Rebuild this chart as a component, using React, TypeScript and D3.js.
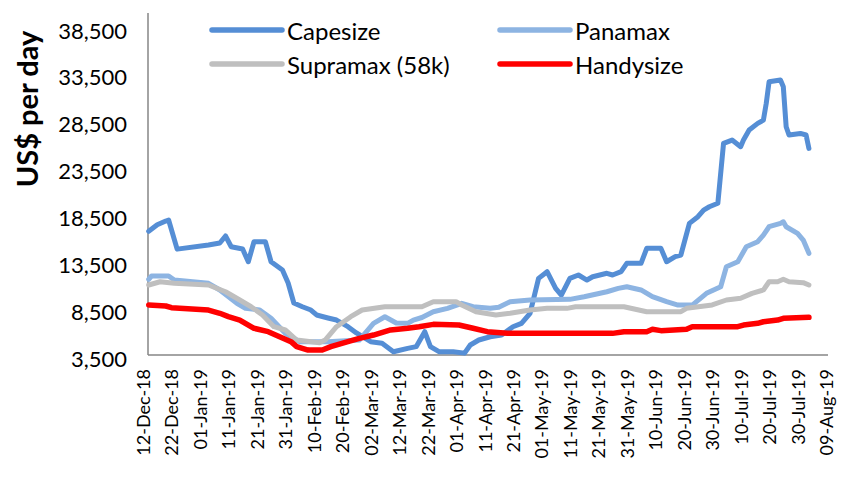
import { useEffect, useRef } from 'react';
import * as d3 from 'd3';

type Pt = [string, number];

const capesize: Pt[] = [
  ['2018-12-14', 16700], ['2018-12-17', 17400], ['2018-12-20', 17800], ['2018-12-21', 17900],
  ['2018-12-24', 14800], ['2019-01-04', 15240], ['2019-01-08', 15450], ['2019-01-10', 16200],
  ['2019-01-12', 15050], ['2019-01-16', 14810], ['2019-01-18', 13450], ['2019-01-20', 15590],
  ['2019-01-24', 15590], ['2019-01-26', 13450], ['2019-01-30', 12570], ['2019-02-01', 11180],
  ['2019-02-03', 9050], ['2019-02-06', 8650], ['2019-02-09', 8300], ['2019-02-11', 7770],
  ['2019-02-15', 7450], ['2019-02-18', 7230], ['2019-02-22', 6520], ['2019-02-25', 5850],
  ['2019-03-02', 4920], ['2019-03-06', 4750], ['2019-03-10', 3850], ['2019-03-15', 4210],
  ['2019-03-18', 4390], ['2019-03-21', 5990], ['2019-03-23', 4390], ['2019-03-26', 3850],
  ['2019-03-31', 3850], ['2019-04-04', 3700], ['2019-04-06', 4570], ['2019-04-09', 5100],
  ['2019-04-13', 5450], ['2019-04-17', 5630], ['2019-04-21', 6520], ['2019-04-24', 6880],
  ['2019-04-27', 7950], ['2019-04-30', 11680], ['2019-05-03', 12390], ['2019-05-06', 10620],
  ['2019-05-08', 9900], ['2019-05-11', 11680], ['2019-05-14', 12040], ['2019-05-17', 11500],
  ['2019-05-19', 11850], ['2019-05-24', 12220], ['2019-05-26', 12040], ['2019-05-29', 12390],
  ['2019-05-31', 13280], ['2019-06-05', 13280], ['2019-06-07', 14880], ['2019-06-12', 14880],
  ['2019-06-14', 13450], ['2019-06-17', 13990], ['2019-06-19', 14170], ['2019-06-22', 17550],
  ['2019-06-25', 18260], ['2019-06-27', 18970], ['2019-06-29', 19320], ['2019-07-02', 19690],
  ['2019-07-04', 26090], ['2019-07-07', 26440], ['2019-07-10', 25730], ['2019-07-11', 26440],
  ['2019-07-13', 27510], ['2019-07-16', 28220], ['2019-07-18', 28570], ['2019-07-19', 30350],
  ['2019-07-20', 32660], ['2019-07-24', 32840], ['2019-07-25', 32130], ['2019-07-26', 27860],
  ['2019-07-27', 26980], ['2019-07-31', 27150], ['2019-08-02', 26980], ['2019-08-03', 25550],
];

const panamax: Pt[] = [
  ['2018-12-14', 11580], ['2018-12-15', 11930], ['2018-12-21', 11930], ['2018-12-23', 11500],
  ['2019-01-04', 11150], ['2019-01-08', 10440], ['2019-01-14', 9020], ['2019-01-17', 8480],
  ['2019-01-22', 8300], ['2019-01-26', 7420], ['2019-01-31', 5820], ['2019-02-05', 4920],
  ['2019-02-15', 4920], ['2019-02-26', 5100], ['2019-03-03', 6880], ['2019-03-07', 7580],
  ['2019-03-11', 6910], ['2019-03-15', 6880], ['2019-03-17', 7230], ['2019-03-20', 7500],
  ['2019-03-24', 8120], ['2019-03-29', 8480], ['2019-04-03', 9020], ['2019-04-07', 8650],
  ['2019-04-13', 8480], ['2019-04-16', 8590], ['2019-04-20', 9190], ['2019-04-27', 9370],
  ['2019-05-11', 9440], ['2019-05-16', 9720], ['2019-05-24', 10250], ['2019-05-28', 10610],
  ['2019-05-31', 10790], ['2019-06-05', 10440], ['2019-06-09', 9720], ['2019-06-14', 9190],
  ['2019-06-18', 8830], ['2019-06-23', 8830], ['2019-06-28', 10080], ['2019-07-03', 10790],
  ['2019-07-05', 12920], ['2019-07-09', 13450], ['2019-07-12', 15050], ['2019-07-16', 15590],
  ['2019-07-18', 16300], ['2019-07-20', 17190], ['2019-07-24', 17550], ['2019-07-25', 17720],
  ['2019-07-26', 17190], ['2019-07-30', 16480], ['2019-08-01', 15770], ['2019-08-03', 14350],
];

const supramax: Pt[] = [
  ['2018-12-14', 10970], ['2018-12-18', 11320], ['2018-12-23', 11150], ['2019-01-04', 10970],
  ['2019-01-10', 10250], ['2019-01-15', 9370], ['2019-01-19', 8650], ['2019-01-23', 7770],
  ['2019-01-27', 6520], ['2019-01-31', 6170], ['2019-02-04', 5100], ['2019-02-12', 4810],
  ['2019-02-14', 5100], ['2019-02-18', 6520], ['2019-02-23', 7590], ['2019-02-27', 8300],
  ['2019-03-07', 8650], ['2019-03-20', 8650], ['2019-03-24', 9190], ['2019-04-01', 9190],
  ['2019-04-03', 8840], ['2019-04-08', 8120], ['2019-04-15', 7770], ['2019-04-20', 7950],
  ['2019-04-27', 8300], ['2019-05-03', 8480], ['2019-05-10', 8480], ['2019-05-13', 8650],
  ['2019-05-30', 8650], ['2019-06-07', 8120], ['2019-06-19', 8120], ['2019-06-21', 8480],
  ['2019-06-30', 8840], ['2019-07-05', 9370], ['2019-07-10', 9550], ['2019-07-14', 10080],
  ['2019-07-18', 10440], ['2019-07-20', 11320], ['2019-07-23', 11320], ['2019-07-25', 11580],
  ['2019-07-27', 11320], ['2019-08-01', 11220], ['2019-08-03', 10970],
];

const handysize: Pt[] = [
  ['2018-12-14', 8840], ['2018-12-20', 8730], ['2018-12-22', 8550], ['2019-01-04', 8300],
  ['2019-01-08', 7950], ['2019-01-11', 7590], ['2019-01-15', 7230], ['2019-01-20', 6350],
  ['2019-01-25', 5990], ['2019-01-29', 5450], ['2019-02-02', 4920], ['2019-02-04', 4390],
  ['2019-02-08', 4030], ['2019-02-13', 4030], ['2019-02-16', 4390], ['2019-02-22', 4920],
  ['2019-02-26', 5280], ['2019-03-03', 5630], ['2019-03-09', 6170], ['2019-03-15', 6350],
  ['2019-03-19', 6520], ['2019-03-24', 6770], ['2019-04-02', 6700], ['2019-04-07', 6350],
  ['2019-04-12', 5990], ['2019-04-19', 5810], ['2019-05-26', 5810], ['2019-05-30', 5990],
  ['2019-06-07', 5990], ['2019-06-09', 6240], ['2019-06-12', 6100], ['2019-06-21', 6240],
  ['2019-06-23', 6520], ['2019-07-09', 6520], ['2019-07-11', 6700], ['2019-07-16', 6880],
  ['2019-07-18', 7050], ['2019-07-23', 7230], ['2019-07-25', 7420], ['2019-08-03', 7520],
];

const seriesNames = ['Capesize', 'Panamax', 'Supramax (58k)', 'Handysize'];
const seriesColors = ['#558ED5', '#8DB4E2', '#BFBFBF', '#FF0000'];
const seriesData = [capesize, panamax, supramax, handysize];

const yTicks = [3500, 8500, 13500, 18500, 23500, 28500, 33500, 38500];
const firstLabel = '2018-12-12';
const lastLabel = '2019-08-09';

const W = 846;
const H = 490;
const FONT = 'Lato, "Open Sans", sans-serif';

export default function App() {
  const ref = useRef<SVGSVGElement | null>(null);

  useEffect(() => {
    if (!ref.current) return;
    const svg = d3.select(ref.current);
    svg.selectAll('*').remove();

    const parse = d3.utcParse('%Y-%m-%d');
    const x = d3
      .scaleUtc()
      .domain([parse(firstLabel)!, parse(lastLabel)!])
      .range([143, 826]);
    const y = d3.scaleLinear().domain([3500, 40000]).range([355, 13]);

    // axes
    svg.append('line').attr('x1', 148).attr('x2', 148).attr('y1', 13).attr('y2', 355)
      .attr('stroke', '#868686').attr('stroke-width', 1.5);
    svg.append('line').attr('x1', 148).attr('x2', 828).attr('y1', 355).attr('y2', 355)
      .attr('stroke', '#868686').attr('stroke-width', 1.5);

    svg.append('g')
      .selectAll('text')
      .data(yTicks)
      .enter()
      .append('text')
      .attr('x', 127)
      .attr('y', (d) => y(d) + 3)
      .attr('text-anchor', 'end')
      .attr('dominant-baseline', 'central')
      .attr('font-family', FONT)
      .attr('font-size', 22)
      .attr('fill', '#000')
      .text((d) => d3.format(',')(d));

    svg.append('text')
      .attr('transform', `translate(26,109) rotate(-90)`)
      .attr('text-anchor', 'middle')
      .attr('dominant-baseline', 'central')
      .attr('font-family', FONT)
      .attr('font-weight', 'bold')
      .attr('font-size', 29)
      .text('US$ per day');

    // x labels every 10 days
    const xTicks = d3.utcDay.every(1)!.range(parse(firstLabel)!, d3.utcDay.offset(parse(lastLabel)!, 1))
      .filter((_d, i) => i % 10 === 0);
    const fmt = d3.utcFormat('%d-%b-%y');
    svg.append('g')
      .selectAll('text')
      .data(xTicks)
      .enter()
      .append('text')
      .attr('transform', (d) => `translate(${x(d)},369) rotate(-90)`)
      .attr('text-anchor', 'end')
      .attr('dominant-baseline', 'central')
      .attr('font-family', FONT)
      .attr('font-size', 18)
      .text((d) => fmt(d));

    const line = d3
      .line<Pt>()
      .x((d) => x(parse(d[0])!))
      .y((d) => y(d[1]));

    seriesData.forEach((s, i) => {
      svg.append('path')
        .datum(s)
        .attr('d', line)
        .attr('fill', 'none')
        .attr('stroke', seriesColors[i])
        .attr('stroke-width', i === 3 ? 5.5 : 5)
        .attr('stroke-linejoin', 'round')
        .attr('stroke-linecap', 'round');
    });

    // legend
    const legendPos = [
      [212, 30], [500, 30], [212, 64], [500, 64],
    ];
    seriesNames.forEach((name, i) => {
      const [lx, ly] = legendPos[i];
      svg.append('line').attr('x1', lx).attr('x2', lx + 70).attr('y1', ly).attr('y2', ly)
        .attr('stroke', seriesColors[i]).attr('stroke-width', 5.5).attr('stroke-linecap', 'round');
      svg.append('text')
        .attr('x', lx + 75)
        .attr('y', ly)
        .attr('dominant-baseline', 'central')
        .attr('font-family', FONT)
        .attr('font-size', 24)
        .text(name);
    });
  }, []);

  return <svg ref={ref} width={W} height={H} style={{ position: 'absolute', left: 0, top: 0 }} />;
}
